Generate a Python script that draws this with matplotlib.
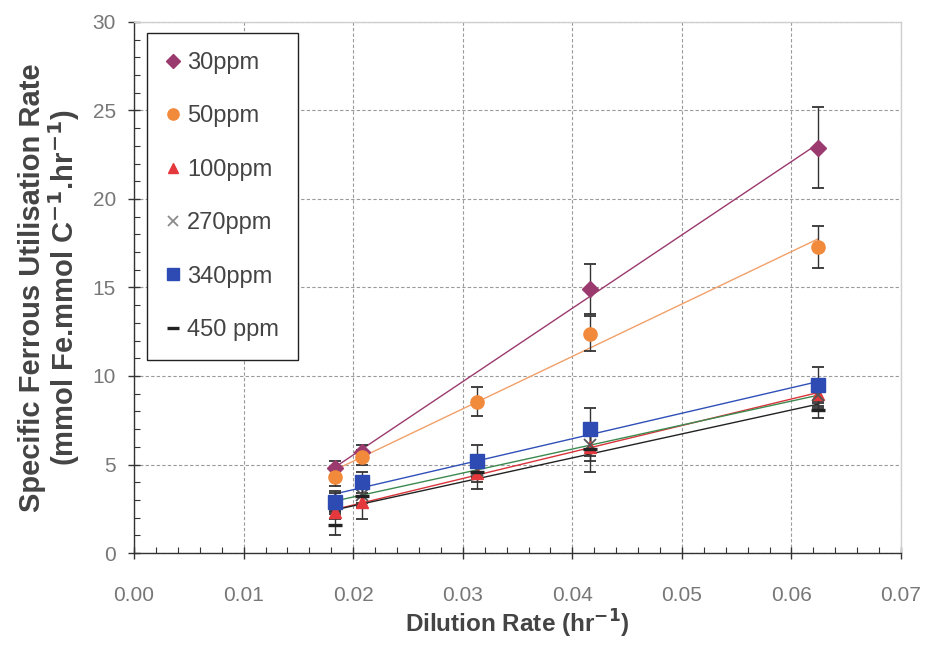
import numpy as np
import matplotlib
matplotlib.use("Agg")
import matplotlib.pyplot as plt
from matplotlib.lines import Line2D
from matplotlib.ticker import MultipleLocator, FormatStrFormatter

plt.rcParams['font.family'] = ['Liberation Sans', 'DejaVu Sans']

# Dilution rates (hr^-1)
dilution = [0.0183, 0.0208, 0.0313, 0.0416, 0.0624]

series_labels = ["30ppm", "50ppm", "100ppm", "270ppm", "340ppm", "450 ppm"]

rate_30 = [4.8, 5.7, np.nan, 14.9, 22.9]
err_30 = [0.4, 0.4, np.nan, 1.4, 2.3]
rate_50 = [4.3, 5.4, 8.55, 12.4, 17.3]
err_50 = [0.5, 0.4, 0.8, 1.0, 1.2]
rate_100 = [2.3, 2.9, 4.5, 6.0, 9.0]
err_100 = [0.4, 1.0, 0.9, 0.8, 0.8]
rate_270 = [2.9, 3.3, 4.7, 6.1, 8.9]
err_270 = [0.5, 0.5, 0.5, 0.6, 0.6]
rate_340 = [2.9, 4.0, 5.2, 7.0, 9.5]
err_340 = [0.6, 0.6, 0.9, 1.2, 1.0]
rate_450 = [1.6, 3.2, 4.6, 5.9, 8.1]
err_450 = [0.6, 0.6, 0.6, 1.3, 0.5]

rates = [rate_30, rate_50, rate_100, rate_270, rate_340, rate_450]
errs = [err_30, err_50, err_100, err_270, err_340, err_450]

marker_styles = [
    dict(marker='D', ms=8, mfc='#9B3A6E', mec='#9B3A6E'),
    dict(marker='o', ms=9.5, mfc='#F28A3C', mec='#F28A3C'),
    dict(marker='^', ms=9, mfc='#E5383D', mec='#E5383D'),
    dict(marker='x', ms=8, mfc='none', mec='#555555', mew=1.3),
    dict(marker='s', ms=9.5, mfc='#2D4BB3', mec='#2D4BB3'),
    dict(marker='_', ms=10, mfc='#222222', mec='#222222', mew=2.4),
]
legend_marker_colors = ['#9B3A6E', '#F28A3C', '#E5383D', '#8A8A8A', '#2D4BB3', '#222222']
trend_colors = ['#9B3A6E', '#F2A06A', '#D9343A', '#3C8A50', '#3050B8', '#222222']

fig = plt.figure(figsize=(9.27, 6.45), dpi=100)
ax = fig.add_axes([0.1446, 0.1426, 0.8274, 0.8234])

x = np.array(dilution)
for y, e, ms, tc in zip(rates, errs, marker_styles, trend_colors):
    y = np.array(y, dtype=float)
    e = np.array(e, dtype=float)
    ok = ~np.isnan(y)
    # linear trendline over the measured range
    slope, icpt = np.polyfit(x[ok], y[ok], 1)
    xf = np.array([x[ok].min(), x[ok].max()])
    ax.plot(xf, slope * xf + icpt, color=tc, lw=1.0, zorder=2)
    ax.errorbar(x[ok], y[ok], yerr=e[ok], fmt='none', ecolor='#333333',
                elinewidth=1.0, capsize=4, capthick=1.3, zorder=3)
    ax.plot(x[ok], y[ok], linestyle='none', zorder=4, **ms)

ax.set_xlim(0.0, 0.07)
ax.set_ylim(0, 30)
ax.xaxis.set_major_locator(MultipleLocator(0.01))
ax.xaxis.set_minor_locator(MultipleLocator(0.002))
ax.yaxis.set_major_locator(MultipleLocator(5))
ax.yaxis.set_minor_locator(MultipleLocator(1))
ax.xaxis.set_major_formatter(FormatStrFormatter('%.2f'))

ax.grid(True, which='major', color='#9a9a9a', linestyle=(0, (3, 2)), lw=0.8)
ax.set_axisbelow(True)

for side in ['top', 'right']:
    ax.spines[side].set_color('#cfcfcf')
    ax.spines[side].set_linewidth(1.0)
for side in ['left', 'bottom']:
    ax.spines[side].set_color('#333333')
    ax.spines[side].set_linewidth(1.0)

ax.tick_params(which='major', direction='inout', length=8, width=1, color='#333333',
               labelsize=15, labelcolor='#777777')
ax.tick_params(axis='x', which='major', pad=20)
ax.tick_params(axis='y', which='major', pad=9)
ax.tick_params(which='minor', direction='in', length=4, width=0.8, color='#333333')
ax.tick_params(top=False, right=False, which='both')

ax.set_xlabel('Dilution Rate (hr$^{\\mathbf{-1}}$)', fontsize=17.5, fontweight='bold',
              color='#444444', labelpad=2)
ax.set_ylabel('Specific Ferrous Utilisation Rate\n(mmol Fe.mmol C$^{\\mathbf{-1}}$.hr$^{\\mathbf{-1}}$)',
              fontsize=21, fontweight='bold', color='#444444', labelpad=8,
              linespacing=1.0)

handles = [Line2D([], [], linestyle='none', marker=ms['marker'],
                  ms=ms['ms'] * 0.85, mfc=c if ms['marker'] != 'x' else 'none',
                  mec=c, mew=ms.get('mew', 1.0))
           for ms, c in zip(marker_styles, legend_marker_colors)]
leg = ax.legend(handles, series_labels, loc='upper left',
                bbox_to_anchor=(0.017, 0.979), fontsize=17, labelspacing=1.33,
                handlelength=0.6, handletextpad=0.3, borderpad=0.8,
                borderaxespad=0, fancybox=False, framealpha=1,
                edgecolor='#222222')
leg.get_frame().set_linewidth(1.0)
for t in leg.get_texts():
    t.set_color('#444444')

fig.savefig('out.png', dpi=100, facecolor='white')
